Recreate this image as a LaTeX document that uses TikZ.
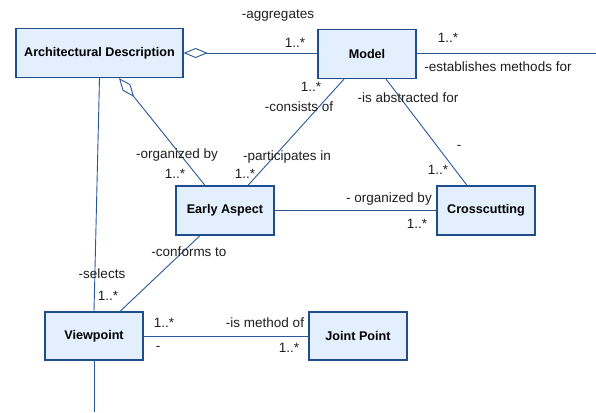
\documentclass[tikz,border=0pt]{standalone}
\usepackage{fontspec}
\setmainfont{Liberation Sans}
\usetikzlibrary{arrows.meta,calc}
\definecolor{boxfill}{RGB}{227,239,253}
\definecolor{boxline}{RGB}{31,78,140}
\definecolor{conn}{RGB}{40,88,150}
\definecolor{lbl}{RGB}{30,30,30}
\begin{document}
\begin{tikzpicture}[x=1pt,y=-1pt,
  umlbox/.style={draw=boxline,line width=1.2pt,fill=boxfill,minimum width=98pt,minimum height=49pt,inner sep=0pt,font=\fontsize{12.6}{14}\selectfont\bfseries,text=black},
  link/.style={draw=conn,line width=0.9pt},
  agg/.style={link,{Diamond[open,fill=white,length=24pt,width=10pt]}-},
  lab/.style={font=\fontsize{13.5}{15}\selectfont,text=lbl,inner sep=0pt}]
\useasboundingbox (0,0) rectangle (596,412);
\node[umlbox,minimum width=167pt] (ad) at (99.5,53) {Architectural Description};
\node[umlbox] (model) at (367,54) {Model};
\node[umlbox] (ea) at (225,210.5) {Early Aspect};
\node[umlbox] (cc) at (486,210.5) {Crosscutting};
\node[umlbox,minimum height=48pt] (vp) at (94,336) {Viewpoint};
\node[umlbox,minimum height=48pt] (jp) at (358,336) {Joint Point};
\coordinate (mright) at (596,53);
\coordinate (vpend) at (94,412);
% connectors
\draw[agg] (ad.east) -- (ad.east -| model.west);
\draw[link] (model.east |- mright) -- (mright);
\draw[agg] ([xshift=19.5pt]ad.south) -- ([xshift=-20pt]ea.north);
\draw[link] (ad.south) -- (vp.north);
\draw[link] ([xshift=-23pt]model.south) -- ([xshift=23pt]ea.north);
\draw[link] ([xshift=19pt]model.south) -- ([xshift=-19pt]cc.north);
\draw[link] (ea.east) -- (cc.west);
\draw[link] ([xshift=-25pt]ea.south) -- ([xshift=26pt]vp.north);
\draw[link] (vp.east) -- (jp.west);
\draw[link] (vp.south) -- (vpend);
% labels
\node[lab] (l1) at (278,16) {-aggregates};
\node[lab] (l2) at (295,43) {1..*};
\node[lab] (l3) at (448,38) {1..*};
\node[lab] (l4) at (498,67) {-establishes methods for};
\node[lab] (l5) at (311,87) {1..*};
\node[lab] (l6) at (299,107) {-consists of};
\node[lab] (l7) at (408,98) {-is abstracted for};
\node[lab] (l8) at (459,147) {-};
\node[lab] (l9) at (438,170) {1..*};
\node[lab] (l10) at (177,155) {-organized by};
\node[lab] (l11) at (175,174) {1..*};
\node[lab] (l12) at (287,157) {-participates in};
\node[lab] (l13) at (245,174) {1..*};
\node[lab] (l14) at (389,199) {- organized by};
\node[lab] (l15) at (417,224) {1..*};
\node[lab] (l16) at (189,252) {-conforms to};
\node[lab] (l17) at (102,274) {-selects};
\node[lab] (l18) at (108,296) {1..*};
\node[lab] (l19) at (164,323) {1..*};
\node[lab] (l20) at (265,323) {-is method of};
\node[lab] (l21) at (158,348) {-};
\node[lab] (l22) at (289,348) {1..*};
\end{tikzpicture}
\end{document}
